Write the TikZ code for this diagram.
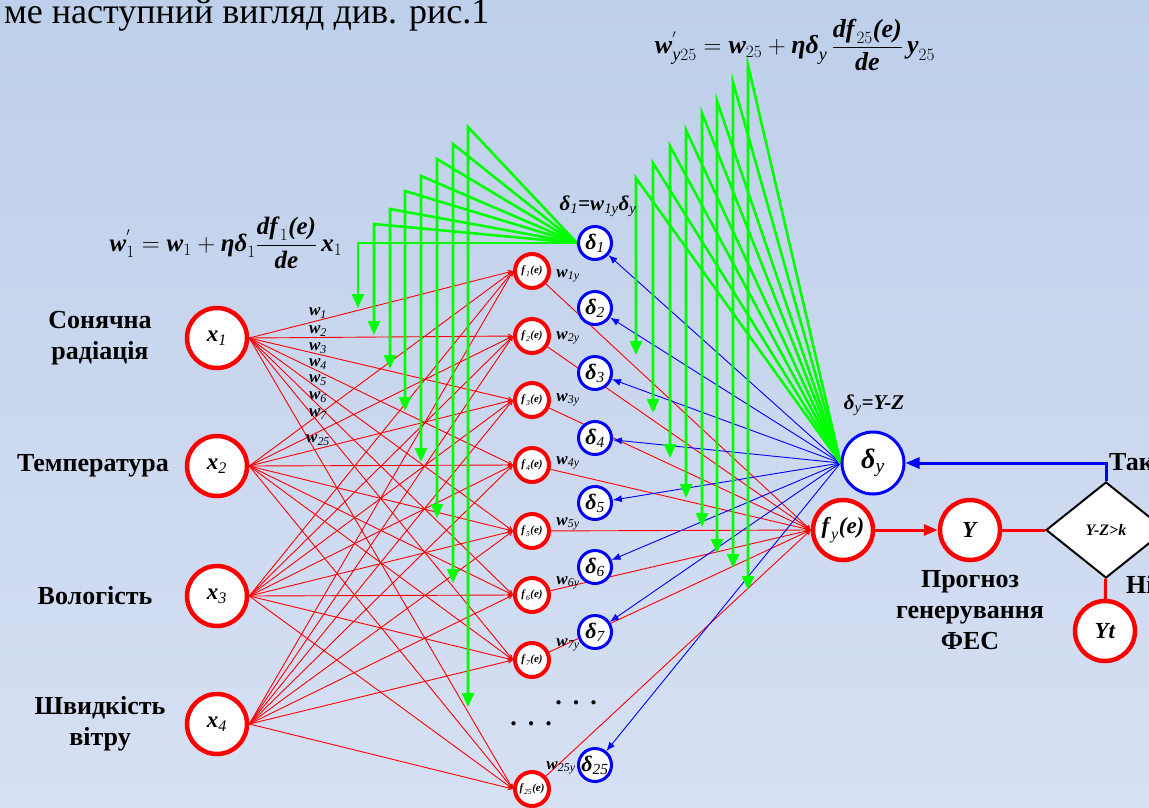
\documentclass[tikz,border=0pt]{standalone}
\usepackage{amsmath}
\usepackage{fontspec}
\setmainfont{Liberation Serif}
\usetikzlibrary{shapes.geometric, arrows.meta}

\definecolor{bgtop}{RGB}{190,207,234}
\definecolor{bgbot}{RGB}{214,224,243}
\definecolor{grn}{RGB}{0,255,0}
\newcommand\bi[1]{\textbf{\textit{#1}}}
\pgfdeclarelayer{bg}
\pgfdeclarelayer{links}
\pgfsetlayers{bg,links,main}

\begin{document}
\begin{tikzpicture}[x=1pt,y=-1pt,
  inp/.style={circle, draw=red, line width=4.5pt, fill=white, minimum size=60pt, inner sep=0pt, font=\fontsize{23}{25}\selectfont},
  hid/.style={circle, draw=red, line width=4pt, fill=white, minimum size=34pt, inner sep=0pt, font=\fontsize{11}{12}\selectfont},
  dlt/.style={circle, draw=blue, line width=3pt, fill=white, minimum size=33pt, inner sep=0pt, font=\fontsize{22}{24}\selectfont},
  lbl/.style={align=center, inner sep=0pt, font=\bfseries\fontsize{26}{31}\selectfont},
  wlb/.style={inner sep=0pt, font=\fontsize{17}{18}\selectfont},
  rline/.style={red, line width=0.9pt, -{Straight Barb[length=4pt,width=4pt]}},
  bline/.style={blue, line width=0.9pt, -{Latex[length=9pt,width=7pt]}},
  gline/.style={grn, line width=2.6pt, -{Triangle[length=14pt,width=12pt]}},
  thick/.style={line width=3pt}]
\useasboundingbox (0,0) rectangle (1149,807);
\begin{pgfonlayer}{bg}
\shade[top color=bgtop, bottom color=bgbot] (0,0) rectangle (1149,807);
\end{pgfonlayer}

\node[anchor=base west, inner sep=0pt, font=\fontsize{36}{38}\selectfont] (hdr) at (4,23) {ме наступний вигляд див. рис.1};

\node[lbl] (l1) at (100,338) {Сонячна\\радіація};
\node[lbl] (l2) at (93,466) {Температура};
\node[lbl] (l3) at (95,596) {Вологість};
\node[lbl] (l4) at (100,724) {Швидкість\\вітру};

\foreach \i/\y in {1/338,2/466,3/596,4/724}
  \node[inp] (x\i) at (217,\y) {$\bi{x}_{\textit{\i}}$};
\foreach \i/\y in {1/271,2/336,3/400,4/465,5/531,6/595,7/660,25/789}
  \node[hid] (f\i) at (532,\y) {$\bi{f}_{\textit{\i}}\bi{(e)}$};
\foreach \i/\y in {1/243,2/308,3/373,4/438,5/503,6/567,7/632,25/765}
  \node[dlt] (d\i) at (595,\y) {$\bi{δ}_{\textit{\i}}$};

\node[dlt, minimum size=62pt, font=\fontsize{28}{30}\selectfont] (dy) at (873,463) {$\bi{δ}_{\textit{y}}$};
\node[inp] (fy) at (843,530) {$\bi{f}_{\textit{y}}\bi{(e)}$};
\node[inp] (yy) at (970,530) {\bi{Y}};
\node[diamond, draw, line width=2pt, fill=white, minimum width=120pt, minimum height=96pt, inner sep=0pt, font=\fontsize{16}{17}\selectfont] (cmp) at (1106,530) {\bi{Y-Z>k}};
\node[inp] (yt) at (1105,631) {\bi{Yt}};

\node[lbl] (prg) at (970,610) {Прогноз\\генерування\\ФЕС};
\node[lbl, anchor=west] (tak) at (1109,462) {Так};
\node[lbl, anchor=west] (ni) at (1126,584) {Ні};

\node[font=\fontsize{25}{27}\selectfont] (fm1) at (226,243) {$\bi{w}^{'}_{1}=\bi{w}_{1}+\bi{ηδ}_{1}\dfrac{\bi{df}_{1}\bi{(e)}}{\bi{de}}\,\bi{x}_{1}$};
\node[font=\fontsize{26}{28}\selectfont] (fm2) at (795,45) {$\bi{w}^{'}_{\textit{y}25}=\bi{w}_{25}+\bi{ηδ}_{\textit{y}}\,\dfrac{\bi{df}_{25}\bi{(e)}}{\bi{de}}\,\bi{y}_{25}$};
\node[font=\fontsize{21}{23}\selectfont] (dl1) at (598,206) {$\bi{δ}_{\textit{1}}\bi{=w}_{\textit{1y}}\bi{δ}_{\textit{y}}$};
\node[font=\fontsize{21}{23}\selectfont] (dly) at (874,405) {$\bi{δ}_{\textit{y}}\bi{=Y-Z}$};

\foreach \t/\y in {1/313,2/331,3/348,4/364,5/380,6/397,7/414,25/440}
  \node[wlb] (w\t) at (318,\y) {$\bi{w}_{\textit{\t}}$};
\foreach \t/\x/\y in {1/568/276,2/568/338,3/568/400,4/568/463,5/568/524,6/568/583,7/568/645,25/561/768}
  \node[wlb] (wy\t) at (\x,\y) {$\bi{w}_{\textit{\t y}}$};

\node[font=\bfseries\fontsize{26}{28}\selectfont] (dt1) at (576,703) {.\hspace{11pt}.\hspace{11pt}.};
\node[font=\bfseries\fontsize{26}{28}\selectfont] (dt2) at (531,724) {.\hspace{11pt}.\hspace{11pt}.};

\begin{pgfonlayer}{links}
\foreach \a in {1,...,4}
  \foreach \b in {1,...,7,25}
    \draw[rline] (x\a.east) -- (f\b.west);
\foreach \b in {1,...,7,25} {
  \draw[rline] (f\b) -- (fy.west);
  \draw[bline] (dy.west) -- (d\b);
}
\foreach \px/\py/\ty [count=\k] in {358/243/308,374/224/335,390/209/369,405/191/411,421/176/462,437/159/518,453/144/583,468/127/707} {
  \coordinate (gl\k) at (\px,\ty);
  \draw[gline] (d1.west) -- (\px,\py) -- (gl\k);
}
\foreach \px/\py/\ty [count=\k] in {636/178/355,653/163/413,670/146/458,686/130/498,702/113/527,717/101/553,733/82/568,748/65/590} {
  \coordinate (gr\k) at (\px,\ty);
  \draw[gline] (dy.west) -- (\px,\py) -- (gr\k);
}
\end{pgfonlayer}

\draw[red, thick, -{Triangle[length=14pt,width=11pt]}] (fy) -- (yy);
\draw[red, thick] (yy) -- (cmp);
\draw[red, thick] (cmp) -- (yt);
\draw[blue, thick, -{Triangle[length=14pt,width=11pt]}] (cmp.north) |- (dy.east);
\end{tikzpicture}
\end{document}
